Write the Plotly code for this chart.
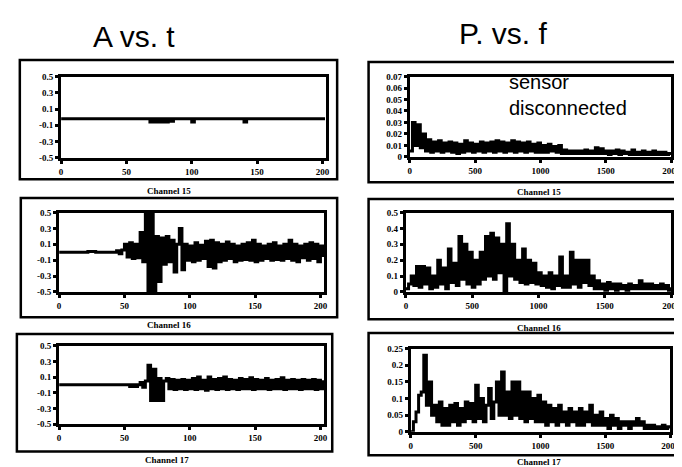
import plotly.graph_objects as go

W, H = 682, 467

# ---------------- data ----------------
# time-domain amplitude, sampled every 2 time units starting at t = 0
t_start, t_step = 0, 2
amp_ch15 = [
    -0.02, -0.02, -0.02, -0.02, -0.02, -0.02, -0.02, -0.02, -0.02, -0.02,
    -0.02, -0.02, -0.02, -0.02, -0.02, -0.02, -0.02, -0.02, -0.02, -0.02,
    -0.02, -0.02, -0.02, -0.02, -0.02, -0.02, -0.02, -0.02, -0.02, -0.02,
    -0.02, -0.02, -0.02, -0.02,
    -0.06, -0.02, -0.06, -0.02, -0.06, -0.02, -0.06, -0.02, -0.05, -0.02,
    -0.02, -0.02, -0.02, -0.02, -0.02, -0.02,
    -0.06,
    -0.02, -0.02, -0.02, -0.02, -0.02, -0.02, -0.02, -0.02, -0.02, -0.02,
    -0.02, -0.02, -0.02, -0.02, -0.02, -0.02, -0.02, -0.02, -0.02,
    -0.06,
    -0.02, -0.02, -0.02, -0.02, -0.02, -0.02, -0.02, -0.02, -0.02, -0.02,
    -0.02, -0.02, -0.02, -0.02, -0.02, -0.02, -0.02, -0.02, -0.02, -0.02,
    -0.02, -0.02, -0.02, -0.02, -0.02, -0.02, -0.02, -0.02, -0.02, -0.02,
    -0.02,
]
amp_ch16 = [
    0, 0, 0, 0, 0, 0, 0, 0, 0, 0, 0,
    0.01, 0.01, 0.01,
    0, 0, 0, 0, 0, 0, 0, 0,
    0.02, -0.02, 0.03,
    0.1, -0.06, 0.12, -0.08, 0.1, -0.07,
    0.25, -0.12,
    0.5, -0.5, 0.5, -0.5,
    0.2, -0.37, 0.18,
    -0.15, 0.2, -0.12, 0.15, -0.25, 0.1,
    0.3, -0.22,
    0.1, -0.1, 0.08, -0.12, 0.12, -0.1, 0.09, -0.08,
    0.14, -0.18, 0.15, -0.2, 0.12, -0.12,
    0.1, -0.1, 0.13, -0.08, 0.1, -0.12, 0.08, -0.1,
    0.1, -0.09, 0.12, -0.1, 0.15, -0.12, 0.1, -0.1,
    0.08, -0.08, 0.1, -0.1, 0.12, -0.09, 0.08, -0.1,
    0.1, -0.08, 0.15, -0.1, 0.1, -0.12, 0.08, -0.07,
    0.1, -0.1, 0.12, -0.08, 0.1, -0.12, 0.08, -0.06,
]
amp_ch17 = [
    0, 0, 0, 0, 0, 0, 0, 0, 0, 0, 0, 0, 0, 0, 0, 0, 0, 0, 0, 0,
    0, 0, 0, 0, 0, 0, 0,
    -0.02, 0, -0.02, 0,
    0.03, -0.03, 0.05,
    0.25, -0.2, 0.2, -0.2,
    0.08, -0.2, 0.05,
    0.08, -0.05, 0.07, -0.06, 0.06, -0.05, 0.07, -0.06, 0.06, -0.05,
    0.08, -0.06, 0.1, -0.05, 0.06, -0.07, 0.1, -0.05, 0.07, -0.06,
    0.08, -0.05, 0.1, -0.06, 0.07, -0.05, 0.06, -0.06, 0.08, -0.05,
    0.07, -0.05, 0.09, -0.06, 0.07, -0.05, 0.06, -0.05, 0.08, -0.06,
    0.06, -0.05, 0.07, -0.05, 0.09, -0.06, 0.06, -0.05, 0.07, -0.05,
    0.06, -0.06, 0.07, -0.05, 0.06, -0.05, 0.07, -0.06, 0.06, -0.05,
    0.06,
]

# power spectra, sampled every 20 frequency units starting at f = 0
f_start, f_step = 0, 20
pow_ch15 = [
    0.005, 0.03, 0.01, 0.028, 0.008, 0.02, 0.005, 0.015, 0.004, 0.013,
    0.005, 0.014, 0.004, 0.012, 0.005, 0.013, 0.004, 0.012, 0.003, 0.011,
    0.004, 0.014, 0.005, 0.012, 0.004, 0.011, 0.005, 0.013, 0.004, 0.012,
    0.005, 0.013, 0.004, 0.014, 0.005, 0.013, 0.004, 0.012, 0.005, 0.014,
    0.004, 0.013, 0.005, 0.012, 0.004, 0.013, 0.005, 0.011, 0.004, 0.012,
    0.004, 0.01, 0.004, 0.011, 0.005, 0.009, 0.004, 0.01, 0.003, 0.006,
    0.003, 0.005, 0.003, 0.005, 0.003, 0.005, 0.003, 0.006, 0.003, 0.005,
    0.003, 0.008, 0.003, 0.007, 0.003, 0.005, 0.002, 0.005, 0.003, 0.006,
    0.002, 0.005, 0.003, 0.004, 0.002, 0.006, 0.002, 0.004, 0.002, 0.005,
    0.002, 0.004, 0.002, 0.005, 0.002, 0.004, 0.002, 0.004, 0.002, 0.003,
    0.003,
]
pow_ch16 = [
    0.02, 0.05, 0.1, 0.04, 0.16, 0.03, 0.16, 0.05, 0.15, 0.02,
    0.1, 0.03, 0.2, 0.05, 0.15, 0.02, 0.27, 0.06, 0.18, 0.04,
    0.35, 0.08, 0.3, 0.05, 0.25, 0.03, 0.2, 0.05, 0.25, 0.08,
    0.35, 0.1, 0.37, 0.08, 0.34, 0.12, 0.3, 0.0, 0.43, 0.1,
    0.3, 0.08, 0.2, 0.06, 0.27, 0.05, 0.2, 0.06, 0.18, 0.05,
    0.12, 0.04, 0.1, 0.03, 0.12, 0.02, 0.1, 0.04, 0.22, 0.03,
    0.1, 0.03, 0.25, 0.05, 0.2, 0.03, 0.2, 0.06, 0.2, 0.04,
    0.1, 0.02, 0.07, 0.02, 0.05, 0.01, 0.06, 0.02, 0.05, 0.01,
    0.05, 0.02, 0.04, 0.01, 0.05, 0.02, 0.04, 0.02, 0.07, 0.02,
    0.05, 0.02, 0.05, 0.02, 0.04, 0.02, 0.05, 0.02, 0.04, 0.01,
    0.03,
]
pow_ch17 = [
    0.0, 0.03, 0.06, 0.11, 0.12, 0.23, 0.08, 0.15, 0.05, 0.08,
    0.03, 0.09, 0.02, 0.07, 0.02, 0.08, 0.03, 0.085, 0.02, 0.07,
    0.03, 0.09, 0.04, 0.085, 0.03, 0.14, 0.04, 0.1, 0.03, 0.08,
    0.13, 0.04, 0.09, 0.15, 0.05, 0.18, 0.05, 0.12, 0.04, 0.15,
    0.05, 0.15, 0.04, 0.12, 0.03, 0.12, 0.04, 0.1, 0.03, 0.11,
    0.03, 0.09, 0.02, 0.08, 0.03, 0.07, 0.02, 0.08, 0.03, 0.06,
    0.02, 0.07, 0.03, 0.06, 0.02, 0.07, 0.02, 0.06, 0.03, 0.08,
    0.02, 0.05, 0.02, 0.06, 0.02, 0.04, 0.01, 0.05, 0.02, 0.04,
    0.01, 0.03, 0.02, 0.03, 0.01, 0.03, 0.02, 0.04, 0.02, 0.03,
    0.01, 0.02, 0.01, 0.02, 0.01, 0.015, 0.01, 0.02, 0.01, 0.015,
    0.01,
]

channels = ["Channel 15", "Channel 16", "Channel 17"]
col_titles = ["A vs. t", "P. vs. f"]

amp_ticks = [-0.5, -0.3, -0.1, 0.1, 0.3, 0.5]
t_ticks = [0, 50, 100, 150, 200]
f_ticks = [0, 500, 1000, 1500, 2000]
p_ticks = [
    [0, 0.01, 0.02, 0.03, 0.04, 0.05, 0.06, 0.07],
    [0, 0.1, 0.2, 0.3, 0.4, 0.5],
    [0, 0.05, 0.1, 0.15, 0.2, 0.25],
]
p_max = [0.07, 0.5, 0.25]
note_text = "sensor<br>disconnected"

# ---------------- layout helpers (pixel boxes) ----------------
def fx(p):
    return p / W

def fy(p):
    return 1 - p / H

# plot areas (left, right, top, bottom) in pixels
left_areas = [(52, 322, 65, 148), (50, 320, 204, 285), (50, 320, 340, 420)]
right_areas = [(407, 673, 65, 147), (403, 673, 204, 285), (408, 672, 343, 428)]
left_boxes = [(10, 333, 48, 170), (11, 333, 189, 311), (7, 328, 328, 448)]
right_boxes = [(365, 690, 50, 173), (365, 690, 190, 313), (365, 690, 327, 452)]
left_label_pos = [(162, 182), (162, 319), (160, 457)]
right_label_pos = [(538, 183), (538, 322), (538, 459)]

tickfont = dict(family="Liberation Serif", size=9, color="black", weight="bold")
axis_common = dict(
    showline=True, linecolor="black", linewidth=3, mirror=True,
    ticks="outside", ticklen=3, tickwidth=3, tickcolor="black",
    showgrid=False, zeroline=False, tickfont=tickfont, fixedrange=True,
)

fig = go.Figure()
layout = {}
amps = [amp_ch15, amp_ch16, amp_ch17]
pows = [pow_ch15, pow_ch16, pow_ch17]

n = 0
for i in range(3):
    # left column: amplitude vs time
    n += 1
    xa = "x" if n == 1 else f"x{n}"
    ya = "y" if n == 1 else f"y{n}"
    l, r, t, b = left_areas[i]
    fig.add_trace(go.Scatter(
        y=amps[i], x0=t_start, dx=t_step, mode="lines",
        line=dict(color="black", width=3, shape="hv"),
        xaxis=xa, yaxis=ya, showlegend=False, hoverinfo="skip",
    ))
    layout["xaxis" if n == 1 else f"xaxis{n}"] = dict(
        axis_common, domain=[fx(l), fx(r)], anchor=ya, range=[0, 203],
        tickvals=t_ticks, ticktext=[str(v) for v in t_ticks],
    )
    layout["yaxis" if n == 1 else f"yaxis{n}"] = dict(
        axis_common, domain=[fy(b), fy(t)], anchor=xa, range=[-0.5, 0.5],
        tickvals=amp_ticks, ticktext=[f"{v:g}" for v in amp_ticks],
    )
    # right column: power vs frequency
    n += 1
    xa = f"x{n}"
    ya = f"y{n}"
    l, r, t, b = right_areas[i]
    fig.add_trace(go.Scatter(
        y=pows[i], x0=f_start, dx=f_step, mode="lines",
        line=dict(color="black", width=3, shape="hv"),
        xaxis=xa, yaxis=ya, showlegend=False, hoverinfo="skip",
    ))
    layout[f"xaxis{n}"] = dict(
        axis_common, domain=[fx(l), fx(r)], anchor=ya, range=[0, 2000],
        tickvals=f_ticks, ticktext=[str(v) for v in f_ticks],
    )
    layout[f"yaxis{n}"] = dict(
        axis_common, domain=[fy(b), fy(t)], anchor=xa, range=[0, p_max[i]],
        tickvals=p_ticks[i], ticktext=[f"{v:g}" for v in p_ticks[i]],
    )

shapes = []
for (l, r, t, b) in left_boxes + right_boxes:
    shapes.append(dict(
        type="rect", xref="paper", yref="paper",
        x0=fx(l), x1=fx(r), y0=fy(b), y1=fy(t),
        line=dict(color="black", width=2.5), fillcolor="rgba(0,0,0,0)",
    ))

annotations = []
title_font = dict(family="Liberation Sans, Arial", size=30, color="black")
annotations.append(dict(text=col_titles[0], x=fx(126), y=fy(24), xref="paper", yref="paper",
                        showarrow=False, font=title_font, xanchor="center", yanchor="middle"))
annotations.append(dict(text=col_titles[1], x=fx(502), y=fy(21), xref="paper", yref="paper",
                        showarrow=False, font=title_font, xanchor="center", yanchor="middle"))
label_font = dict(family="Liberation Serif", size=9, color="black", weight="bold")
for i in range(3):
    for (px, py) in (left_label_pos[i], right_label_pos[i]):
        annotations.append(dict(text=channels[i], x=fx(px), y=fy(py), xref="paper", yref="paper",
                                showarrow=False, font=label_font, xanchor="center", yanchor="middle"))
annotations.append(dict(text=note_text, x=fx(506), y=fy(84), xref="paper", yref="paper",
                        showarrow=False, align="left", xanchor="left", yanchor="middle",
                        font=dict(family="Liberation Sans, Arial", size=20, color="black")))

fig.update_layout(
    width=W, height=H, margin=dict(l=0, r=0, t=0, b=0),
    paper_bgcolor="white", plot_bgcolor="white",
    shapes=shapes, annotations=annotations, **layout,
)

fig.write_html("out.html")
